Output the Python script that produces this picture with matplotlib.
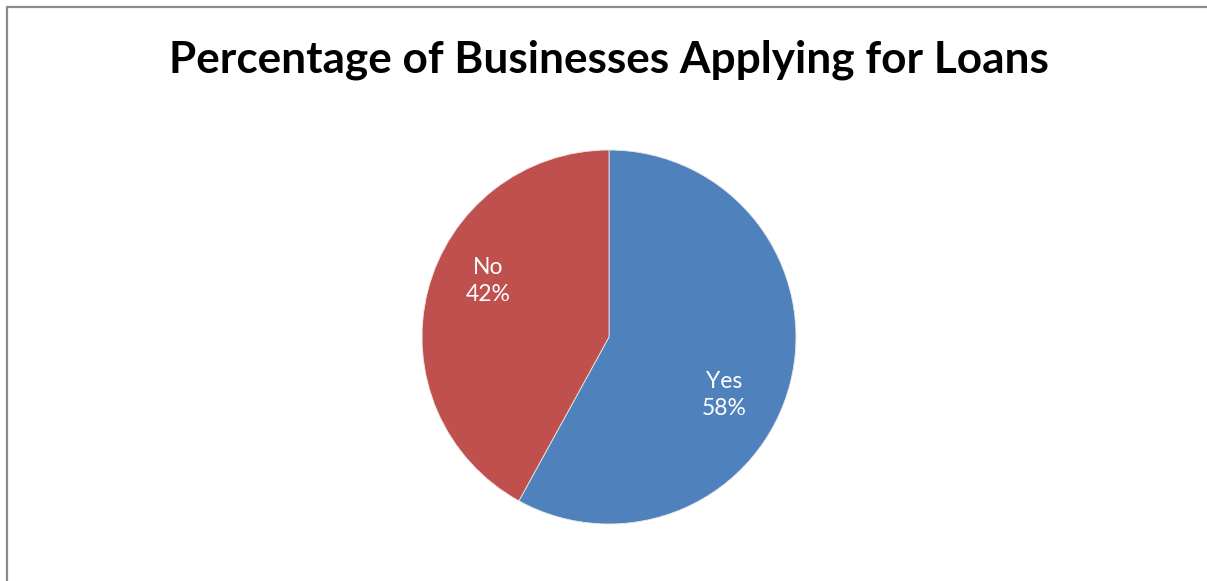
import matplotlib.pyplot as plt
from matplotlib.lines import Line2D

# loan application survey
answers = ["Yes", "No"]
shares = [58, 42]
colors = ["#4F81BD", "#C0504D"]
title = "Percentage of Businesses Applying for Loans"

W, H = 1207, 581
fig = plt.figure(figsize=(W / 100, H / 100), dpi=100)
ax = fig.add_axes([0, 0, 1, 1])

wedges, texts = ax.pie(shares, labels=[f"{a}\n{s}%" for a, s in zip(answers, shares)],
                       colors=colors, startangle=90, counterclock=False,
                       center=(609, H - 337), radius=187, labeldistance=0.69,
                       wedgeprops=dict(edgecolor="#e8e8e8", linewidth=0.6),
                       textprops=dict(color="white", fontsize=16.5, family="Lato",
                                      ha="center", va="center", linespacing=1.3))
# pie() resets the limits, so fix them afterwards
ax.set_xlim(0, W)
ax.set_ylim(0, H)
ax.set_aspect("equal")
ax.axis("off")

# nudge labels to where they sit on the chart
label_pos = [(724, H - 395), (488, H - 281)]
for t, p in zip(texts, label_pos):
    t.set_position(p)
    t.set_ha("center")

# chart frame: only the top and left edges fall inside the image
fig.add_artist(Line2D([7 / W, 7 / W, 1.0], [0.0, 1 - 7 / H, 1 - 7 / H],
                      transform=fig.transFigure, color="#8c8c8c", linewidth=1.6,
                      solid_joinstyle="miter"))

ax.text(609, H - 60, title, ha="center", va="center", fontsize=31.8,
        fontweight="bold", family="Lato")

fig.savefig("out.png", dpi=100)
